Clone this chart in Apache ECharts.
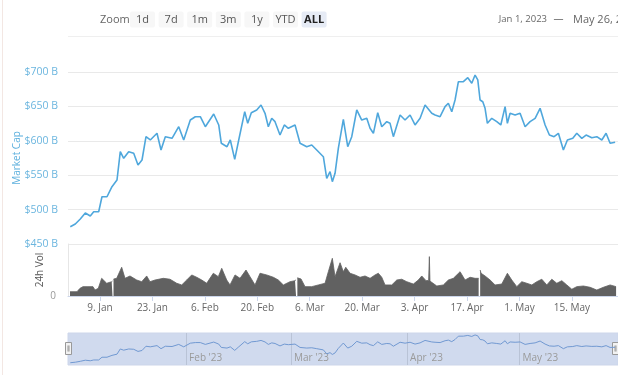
<!DOCTYPE html>
<html><head><meta charset="utf-8">
<script src="https://cdn.jsdelivr.net/npm/echarts@6/dist/echarts.min.js"></script>
<style>html,body{margin:0;padding:0;background:#fff;overflow:hidden}#c{width:618px;height:375px}</style>
</head><body><div id="c"></div>
<script>
// x values are days counted from Mon 26 Dec 2022 (Jan 1 2023 = 6)
const mcDays = [6.08,7.42,8.75,10.09,11.42,12.33,13.66,14.54,15.88,17.21,
18.55,19.43,20.34,21.67,23.01,24.16,25.23,26.29,27.44,29.23,
30.30,31.45,33.24,35.03,36.36,38.12,39.46,40.79,42.13,44.37,
45.71,46.40,47.92,48.80,49.98,51.05,52.65,53.45,54.41,55.85,
57.00,58.07,58.95,59.86,60.74,62.07,63.22,64.29,66.08,67.42,
69.20,70.54,71.87,73.64,74.54,75.43,76.04,76.76,77.64,78.98,
80.15,81.22,82.56,83.89,85.23,86.11,87.00,88.16,89.23,90.57,
91.45,92.33,94.12,95.45,96.79,98.12,99.46,100.79,102.58,103.46,
104.80,106.13,107.01,107.92,108.80,109.69,111.02,112.20,113.26,114.14,
114.87,115.48,116.20,116.81,117.43,118.60,119.94,121.01,122.16,122.77,
123.49,124.83,126.16,127.50,128.83,130.17,131.50,132.84,133.99,135.24,
136.39,137.72,138.79,140.23,141.30,142.64,143.78,145.31,146.64,147.98,
149.12,150.19,151.53];
const mcValues = [475.1,479.1,486.3,495.1,490.7,496.9,496.9,518.7,518.7,533.3,
543.0,584.2,574.6,584.2,581.8,564.8,572.1,606.0,601.2,610.9,
586.6,606.0,603.6,620.5,601.2,630.2,635.0,635.0,620.5,639.0,
623.0,596.4,591.4,601.2,573.1,601.2,642.3,625.4,640.8,644.8,
652.0,640.0,620.5,632.7,627.8,608.4,623.0,618.2,623.0,596.4,
591.4,593.9,586.6,576.9,545.5,555.1,540.6,552.8,589.1,631.2,
591.4,606.0,644.8,630.2,632.7,618.2,610.9,640.8,620.5,627.8,
625.4,606.0,637.5,630.2,637.5,623.0,632.7,652.0,640.0,637.5,
635.0,649.6,654.5,642.3,659.3,685.9,685.9,691.7,683.6,695.6,
688.4,659.3,656.8,647.2,625.4,632.7,627.8,623.0,649.6,625.4,
640.0,637.5,640.0,620.5,627.8,632.7,647.2,623.0,608.4,606.0,
610.9,586.6,601.2,603.6,610.9,603.6,608.4,604.5,606.0,601.2,
610.9,596.4,597.8];
// 24h volume, [day, billions]; null = gap in data
const volumeData = [[6.0,3.3],[7.87,3.3],[8.67,5.9],[9.47,7.2],[10.8,7.2],[12.14,7.2],[12.68,4.6],[13.56,5.9],
[14.46,13.6],[15.8,9.8],[17.13,11.0],[17.35,11.5],[17.48,null],[17.62,13.0],[18.47,13.6],[19.8,22.1],
[20.69,13.6],[22.02,15.4],[23.81,12.3],[25.15,11.0],[26.48,15.4],[27.36,11.0],[28.7,12.3],[30.91,13.6],
[32.7,12.9],[34.49,9.8],[35.83,8.5],[37.16,12.3],[38.5,16.2],[39.83,14.4],[41.17,12.3],[42.5,9.8],
[44.26,17.5],[45.6,14.9],[46.51,21.3],[47.84,12.3],[48.72,8.5],[50.06,16.2],[51.39,13.6],[52.99,20.0],
[54.06,14.9],[55.4,8.5],[56.73,17.5],[58.52,16.2],[60.29,14.4],[61.62,12.3],[62.96,8.5],[64.74,11.0],
[66.08,11.8],[66.35,12.5],[66.53,null],[66.7,14.0],[67.68,13.1],[68.75,7.2],[70.54,7.2],[72.3,8.5],
[74.09,9.8],[74.97,18.7],[76.04,29.0],[76.76,14.9],[78.1,25.6],[78.98,18.7],[79.62,22.1],[80.77,17.5],
[82.1,16.2],[83.44,14.4],[84.77,15.4],[86.11,13.6],[87.44,16.2],[88.32,17.5],[89.23,14.4],[90.11,8.5],
[91.9,8.5],[93.24,12.3],[94.57,12.9],[95.91,11.0],[97.67,9.2],[99.0,12.3],[99.91,15.4],[101.06,11.8],
[101.75,12.0],[101.94,30.3],[102.1,11.5],[102.58,11.0],[103.92,7.7],[105.68,8.5],[107.02,12.3],[108.35,13.6],
[110.14,18.7],[111.47,12.3],[112.81,14.4],[114.14,13.6],[115.1,13.6],[115.29,null],[115.5,20.0],[115.75,17.5],
[116.81,15.4],[118.15,12.3],[119.48,8.5],[121.27,9.2],[122.77,17.5],[123.94,12.3],[125.28,7.2],[126.61,11.0],
[127.95,9.8],[129.29,8.5],[130.62,11.0],[131.96,12.9],[133.29,8.5],[134.63,12.9],[135.96,9.8],[137.3,11.8],
[138.63,8.5],[139.97,5.2],[141.3,7.2],[143.07,7.7],[144.85,6.7],[146.64,4.6],[148.4,6.7],[150.19,8.5],[151.79,7.2]];
const xTickDays = [14,28,42,56,70,84,98,112,126,140];
const xTickLabels = ['9. Jan','23. Jan','6. Feb','20. Feb','6. Mar','20. Mar','3. Apr','17. Apr','1. May','15. May'];
const navTickDays = [37,65,96,126];
const navTickLabels = ["Feb '23","Mar '23","Apr '23","May '23"];
const priceTicks = [450,500,550,600,650,700];
const rangeButtons = ['1d','7d','1m','3m','1y','YTD','ALL'];
const dateFrom = 'Jan 1, 2023', dateTo = 'May 26, 2023';

const XMIN = 5.47, XMAX = 152.3;
const FONT = '"Open Sans", sans-serif';
const mcData = mcDays.map((d,i)=>[d, mcValues[i]]);

const chart = echarts.init(document.getElementById('c'), null, {renderer:'canvas'});

const graphic = [
  {type:'line', shape:{x1:2.5,y1:0,x2:2.5,y2:375}, style:{stroke:'#f3e7e3', lineWidth:1}, silent:true},
  {type:'line', shape:{x1:68,y1:36.5,x2:618,y2:36.5}, style:{stroke:'#efefef', lineWidth:1}, silent:true},
  {type:'text', x:100, y:19.5, style:{text:'Zoom', fill:'#666', font:'11px '+FONT, textVerticalAlign:'middle'}},
  {type:'text', x:547, y:19.5, style:{text:dateFrom, fill:'#666', font:'9.5px '+FONT, textAlign:'right', textVerticalAlign:'middle'}},
  {type:'text', x:558.5, y:19.5, style:{text:'—', fill:'#666', font:'10px '+FONT, textAlign:'center', textVerticalAlign:'middle'}},
  {type:'text', x:573, y:19.5, style:{text:dateTo, fill:'#666', font:'11px '+FONT, textVerticalAlign:'middle'}}
];
rangeButtons.forEach((b,i)=>{
  const cx = 142.5 + i*28.6;
  const active = b === 'ALL';
  graphic.push({type:'rect', shape:{x:cx-12.5,y:11.5,width:25,height:16,r:2},
    style:{fill: active ? '#e6ebf5' : '#f7f7f7'}, silent:true});
  graphic.push({type:'text', x:cx, y:19.5, style:{text:b, fill: active ? '#222' : '#555',
    font:(active?'bold ':'')+'11px '+FONT, textAlign:'center', textVerticalAlign:'middle'}});
});
[65.5, 612.5].forEach(hx=>{
  graphic.push({type:'rect', shape:{x:hx,y:342.5,width:6,height:12}, style:{fill:'#f2f2f2', stroke:'#999', lineWidth:1}, silent:true});
  graphic.push({type:'line', shape:{x1:hx+2.5,y1:345.5,x2:hx+2.5,y2:351.5}, style:{stroke:'#999', lineWidth:1}, silent:true});
  graphic.push({type:'line', shape:{x1:hx+3.5,y1:345.5,x2:hx+3.5,y2:351.5}, style:{stroke:'#999', lineWidth:1}, silent:true});
});

const option = {
  animation:false,
  backgroundColor:'#fff',
  textStyle:{fontFamily:FONT},
  grid:[
    {left:68, right:0, top:72, height:172},
    {left:68, right:0, top:244, height:52},
    {left:68, right:0, top:333, height:32, show:true, backgroundColor:'#d0daee', borderColor:'#cdd6ea', borderWidth:1}
  ],
  xAxis:[
    {type:'value', gridIndex:0, min:XMIN, max:XMAX, show:false, splitLine:{show:false}},
    {type:'value', gridIndex:1, min:XMIN, max:XMAX,
      axisLine:{show:true, lineStyle:{color:'#ccd6eb'}},
      axisTick:{show:true, customValues:xTickDays, length:5, lineStyle:{color:'#ccd6eb'}},
      axisLabel:{customValues:xTickDays, color:'#666', fontSize:10, fontFamily:FONT, margin:7,
        formatter:v=>{const i=xTickDays.indexOf(Math.round(v)); return i>=0?xTickLabels[i]:'';}},
      splitLine:{show:false}},
    {type:'value', gridIndex:2, min:XMIN, max:XMAX,
      axisLine:{show:false},
      axisTick:{show:false, customValues:navTickDays},
      axisLabel:{customValues:navTickDays, inside:true, color:'#9a9a9a', fontSize:10, fontFamily:FONT,
        align:'left', margin:2, padding:[0,0,0,3],
        formatter:v=>{const i=navTickDays.indexOf(Math.round(v)); return i>=0?navTickLabels[i]:'';}},
      splitLine:{show:true, lineStyle:{color:'#b9c3d6', width:1}}}
  ],
  yAxis:[
    {type:'value', gridIndex:0, min:priceTicks[0], max:priceTicks[priceTicks.length-1], interval:50,
      name:'Market Cap', nameLocation:'middle', nameGap:46, nameMoveOverlap:false,
      nameTextStyle:{color:'#5fb1de', fontSize:10, fontFamily:FONT},
      axisLine:{show:false}, axisTick:{show:false},
      axisLabel:{color:'#6cb6df', fontSize:10.5, fontFamily:FONT, margin:10, formatter:'${value} B'},
      splitLine:{show:true, lineStyle:{color:'#e9e9e9'}}},
    {type:'value', gridIndex:1, min:0, max:40, interval:40,
      name:'24h Vol', nameLocation:'middle', nameGap:23, nameMoveOverlap:false,
      nameTextStyle:{color:'#555', fontSize:10, fontFamily:FONT},
      axisLine:{show:true, lineStyle:{color:'#e6e6e6'}}, axisTick:{show:false},
      axisLabel:{color:'#999', fontSize:10, margin:12, formatter:v=>v===0?'0':''},
      splitLine:{show:false}},
    {type:'value', gridIndex:2, min:457, max:711, show:false, splitLine:{show:false}}
  ],
  series:[
    {type:'line', xAxisIndex:1, yAxisIndex:1, data:volumeData, showSymbol:false, connectNulls:false,
      lineStyle:{color:'#616161', width:0.8}, itemStyle:{color:'#616161'},
      areaStyle:{color:'#616161', opacity:1}, z:2},
    {type:'line', xAxisIndex:0, yAxisIndex:0, data:mcData, showSymbol:false,
      lineStyle:{color:'#4fa7dc', width:1.6}, itemStyle:{color:'#4fa7dc'}, z:3},
    {type:'line', xAxisIndex:2, yAxisIndex:2, data:mcData, showSymbol:false,
      lineStyle:{color:'#7199d2', width:1}, itemStyle:{color:'#7199d2'}, z:2}
  ],
  graphic: graphic
};
chart.setOption(option);
</script>
</body></html>
